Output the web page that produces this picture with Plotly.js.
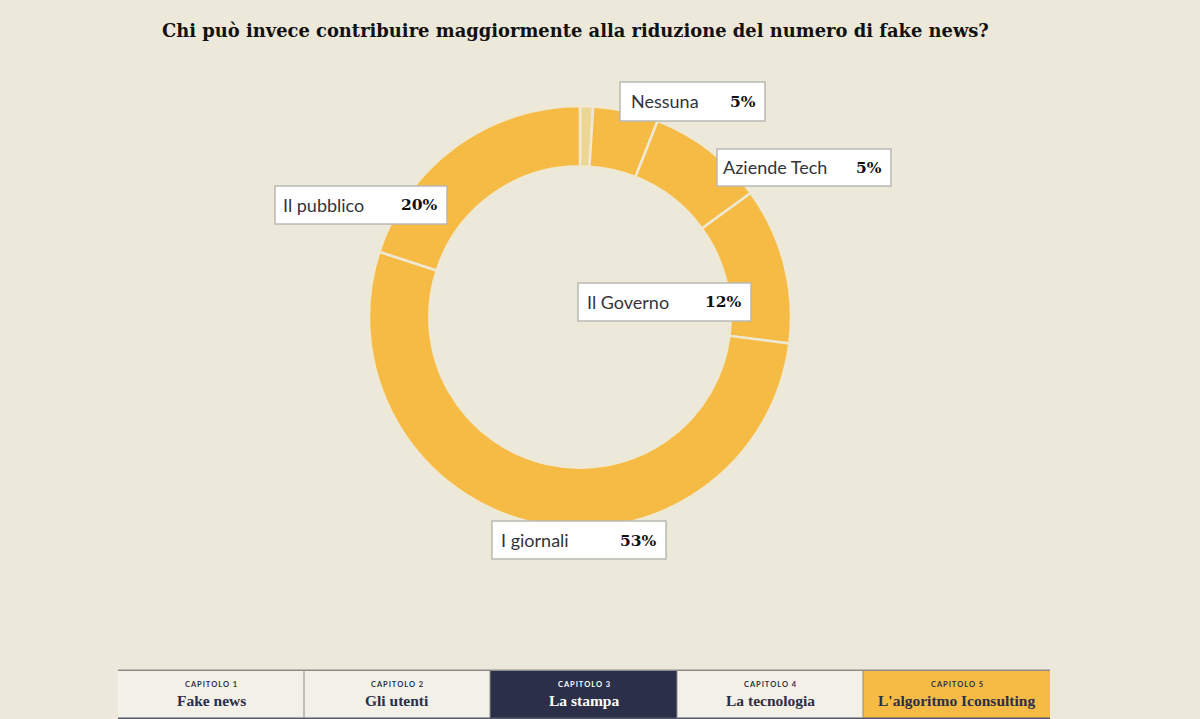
<!DOCTYPE html>
<html><head><meta charset="utf-8">
<script src="https://cdn.plot.ly/plotly-3.0.1.min.js"></script>
<style>html,body{margin:0;padding:0;background:#ece9dc;overflow:hidden}#c{width:1200px;height:719px}</style>
</head><body><div id="c"></div>
<script>
const sliceNames = ["Residuo","Nessuna","Aziende Tech","Il Governo","I giornali","Il pubblico"];
const sliceValues = [1,5,9,12,53,20];
const sliceColors = ["#ecd595","#f5bb45","#f5bb45","#f5bb45","#f5bb45","#f5bb45"];
const labelNames = ["Nessuna","Aziende Tech","Il Governo","I giornali","Il pubblico"];
const labelPercents = ["5%","5%","12%","53%","20%"];
const chapterKickers = ["CAPITOLO 1","CAPITOLO 2","CAPITOLO 3","CAPITOLO 4","CAPITOLO 5"];
const chapterNames = ["Fake news","Gli utenti","La stampa","La tecnologia","L'algoritmo Iconsulting"];
const titleText = "Chi può invece contribuire maggiormente alla riduzione del numero di fake news?";

const W=1200,H=719;
const px=x=>x/W, py=y=>1-y/H;
const SANS="Lato, 'Open Sans', sans-serif", SERIF="'DejaVu Serif', serif", NAV="'Liberation Serif', serif";
const boxes=[[620,82,765,121],[717,149,891,186],[578,283,751,321],[492,521,666,559],[275,186,447,224]];
const labelInset=[9,4,7,7,6];
const chapterX=[118,304,490,677,863,1050];
const chapterFill=["#f3f0e7","#f3f0e7","#2b2f48","#f3f0e7","#f5bb45"];
const chapterInk=["#2b2f48","#2b2f48","#ffffff","#2b2f48","#2b2f48"];

const shapes=[], annotations=[];
const rect=(x0,y0,x1,y1,fill,line,w)=>shapes.push({type:"rect",xref:"paper",yref:"paper",x0:px(x0),x1:px(x1),y0:py(y0),y1:py(y1),fillcolor:fill,line:{color:line||fill,width:w||0}});
const text=(x,y,t,size,color,family,anchor,bold)=>annotations.push({xref:"paper",yref:"paper",x:px(x),y:py(y),text:bold?"<b>"+t+"</b>":t,showarrow:false,xanchor:anchor||"center",yanchor:"middle",font:{size:size,color:color,family:family}});

shapes.push({type:"rect",layer:"below",xref:"paper",yref:"paper",x0:px(28),x1:px(1140),y0:py(14),y1:py(630),fillcolor:"#ece8da",line:{width:0}});
text(575,31,titleText,17.9,"#111111",SERIF,"center",true);

boxes.forEach((b,i)=>{
  rect(b[0],b[1],b[2],b[3],"#ffffff","#b9b9b4",1.5);
  const cy=(b[1]+b[3])/2;
  text(b[0]+labelInset[i],cy,labelNames[i],18,"#33343a",SANS,"left");
  text(b[2]-7,cy,labelPercents[i],15.5,"#111111",SERIF,"right",true);
});

chapterNames.forEach((n,i)=>{
  rect(chapterX[i],670,chapterX[i+1],719,chapterFill[i]);
  const cx=(chapterX[i]+chapterX[i+1])/2;
  text(cx,684,chapterKickers[i].split("").join("\u200A\u200A"),7.5,chapterInk[i],SANS,"center",true);
  text(cx,700,n,15.5,chapterInk[i],NAV,"center",true);
});
rect(118,669.5,1050,671,"#8b8b88");
rect(118,717.5,1050,719,"#55586a");
chapterX.slice(1,-1).forEach(x=>rect(x-0.5,670,x+0.5,718,"#8b8b88"));

Plotly.newPlot("c",[{
  type:"pie",labels:sliceNames,values:sliceValues,sort:false,direction:"clockwise",rotation:0,hole:0.714,
  marker:{colors:sliceColors,line:{color:"#efe9d3",width:2.5}},textinfo:"none",hoverinfo:"label+percent",showlegend:false,
  domain:{x:[px(369),px(791)],y:[py(528),py(106)]}
}],{
  width:W,height:H,margin:{l:0,r:0,t:0,b:0},paper_bgcolor:"#ece9dc",showlegend:false,shapes,annotations
},{displayModeBar:false,staticPlot:true});
</script></body></html>
